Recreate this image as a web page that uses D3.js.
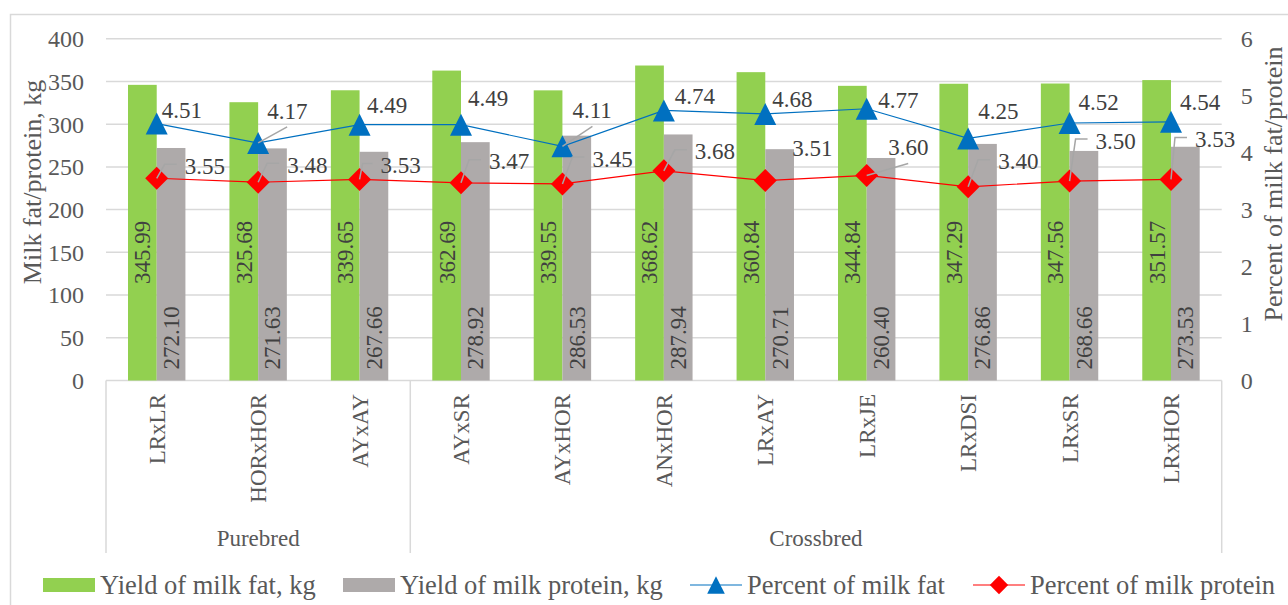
<!DOCTYPE html>
<html>
<head>
<meta charset="utf-8">
<script src="https://cdn.jsdelivr.net/npm/d3@7/dist/d3.min.js"></script>
<style>
  html, body { margin: 0; padding: 0; background: #ffffff; }
  svg { display: block; }
  text { font-family: "Liberation Serif", "Times New Roman", serif; }
</style>
</head>
<body>
<svg id="chart" width="1288" height="605"></svg>
<script>
// ---- data ----
const categories = ["LRxLR", "HORxHOR", "AYxAY", "AYxSR", "AYxHOR", "ANxHOR", "LRxAY", "LRxJE", "LRxDSI", "LRxSR", "LRxHOR"];
const groupNames = ["Purebred", "Crossbred"];
const groupSizes = [3, 8];
const fatYield = [345.99, 325.68, 339.65, 362.69, 339.55, 368.62, 360.84, 344.84, 347.29, 347.56, 351.57];
const proteinYield = [272.10, 271.63, 267.66, 278.92, 286.53, 287.94, 270.71, 260.40, 276.86, 268.66, 273.53];
const fatPercent = [4.51, 4.17, 4.49, 4.49, 4.11, 4.74, 4.68, 4.77, 4.25, 4.52, 4.54];
const proteinPercent = [3.55, 3.48, 3.53, 3.47, 3.45, 3.68, 3.51, 3.60, 3.40, 3.50, 3.53];
const leftTicks = [0, 50, 100, 150, 200, 250, 300, 350, 400];
const rightTicks = [0, 1, 2, 3, 4, 5, 6];
const seriesNames = ["Yield of milk fat, kg", "Yield of milk protein, kg", "Percent of milk fat", "Percent of milk protein"];

// ---- label placement for the percentage labels: [dx, dy, leader] relative to the point ----
const fatLabelPlacement = [
  [5, -13, "none"], [9, -32, "straight"], [7.5, -19, "none"], [7, -26, "none"],
  [10, -36, "straight"], [11, -14, "none"], [7, -14, "none"], [11.5, -8, "none"],
  [10, -27, "none"], [9, -21, "none"], [9, -19, "none"]
];
const proteinLabelPlacement = [
  [28, -12, "elbow"], [29, -17, "elbow"], [21, -14, "elbow"], [28, -21, "elbow"],
  [30, -25, "elbow"], [31, -19, "elbow"], [27, -32, "none"], [21.5, -28, "straight"],
  [30, -25, "elbow"], [26, -40, "elbow"], [24, -40, "elbow"]
];

// ---- styling ----
const COLORS = {
  fat: "#92D050", protein: "#AEAAAA", fatLine: "#0070C0", proteinLine: "#FF0000",
  grid: "#D9D9D9", axisText: "#595959", labelText: "#404040", leader: "#A6A6A6"
};
const FONT = 23;        // data labels, category labels
const TICK_FONT = 24;   // value axes
const TITLE_FONT = 26;  // axis titles
const LEGEND_FONT = 26.5;

const svg = d3.select("#chart");

// outer chart border
svg.append("rect")
  .attr("x", 10.5).attr("y", 14.5).attr("width", 1300).attr("height", 700)
  .attr("fill", "#ffffff").attr("stroke", "#D9D9D9").attr("stroke-width", 1.5);

const plot = { left: 106, right: 1221.7, top: 38.7, bottom: 380.5 };

const x = d3.scaleBand().domain(categories)
  .range([plot.left, plot.right]).paddingInner(0.434).paddingOuter(0.217);
const xSub = d3.scaleBand().domain(["fat", "protein"]).range([0, x.bandwidth()]);
const y = d3.scaleLinear().domain([0, 400]).range([plot.bottom, plot.top]);
const y2 = d3.scaleLinear().domain([0, 6]).range([plot.bottom, plot.top]);
const cx = c => x(c) + x.bandwidth() / 2;

// gridlines
svg.append("g").selectAll("line").data(leftTicks.filter(t => t > 0)).join("line")
  .attr("x1", plot.left).attr("x2", plot.right)
  .attr("y1", d => y(d)).attr("y2", d => y(d))
  .attr("stroke", COLORS.grid).attr("stroke-width", 1.5);

// left axis
const leftAxis = svg.append("g").attr("transform", `translate(${plot.left - 22},0)`)
  .call(d3.axisLeft(y).tickValues(leftTicks).tickFormat(d3.format("d")).tickSize(0).tickPadding(0));
leftAxis.select(".domain").remove();
leftAxis.selectAll("text").attr("font-size", TICK_FONT).attr("fill", COLORS.axisText)
  .attr("font-family", "Liberation Serif, Times New Roman, serif").attr("dy", "0.33em");

// right axis
const rightAxis = svg.append("g").attr("transform", `translate(${plot.right + 19},0)`)
  .call(d3.axisRight(y2).tickValues(rightTicks).tickFormat(d3.format("d")).tickSize(0).tickPadding(0));
rightAxis.select(".domain").remove();
rightAxis.selectAll("text").attr("font-size", TICK_FONT).attr("fill", COLORS.axisText)
  .attr("font-family", "Liberation Serif, Times New Roman, serif").attr("dy", "0.33em");

// axis titles
svg.append("text")
  .attr("transform", `translate(41,182) rotate(-90)`)
  .attr("text-anchor", "middle").attr("font-size", TITLE_FONT).attr("fill", COLORS.axisText)
  .text("Milk fat/protein, kg");
svg.append("text")
  .attr("transform", `translate(1282,184) rotate(-90)`)
  .attr("text-anchor", "middle").attr("font-size", TITLE_FONT).attr("fill", COLORS.axisText)
  .text("Percent of milk fat/protein");

// category axis: baseline and group separators
svg.append("line").attr("x1", plot.left).attr("x2", plot.right)
  .attr("y1", plot.bottom).attr("y2", plot.bottom)
  .attr("stroke", COLORS.grid).attr("stroke-width", 1.5);

const groupBounds = [];
let start = 0;
groupSizes.forEach((n, i) => {
  const x0 = x.step() * start + plot.left;
  const x1 = x.step() * (start + n) + plot.left;
  groupBounds.push({ name: groupNames[i], x0, x1 });
  start += n;
});
const sepXs = [plot.left, ...groupBounds.map(g => g.x1)];
svg.append("g").selectAll("line").data(sepXs).join("line")
  .attr("x1", d => d).attr("x2", d => d)
  .attr("y1", plot.bottom).attr("y2", 553)
  .attr("stroke", COLORS.grid).attr("stroke-width", 1.5);

svg.append("g").selectAll("text").data(categories).join("text")
  .attr("transform", d => `translate(${cx(d) + 8},394) rotate(-90)`)
  .attr("text-anchor", "end").attr("font-size", FONT).attr("fill", COLORS.axisText)
  .text(d => d);

svg.append("g").selectAll("text").data(groupBounds).join("text")
  .attr("x", d => (d.x0 + d.x1) / 2).attr("y", 546)
  .attr("text-anchor", "middle").attr("font-size", FONT).attr("fill", COLORS.axisText)
  .text(d => d.name);

// bars
const barG = svg.append("g");
barG.selectAll("rect.fat").data(categories).join("rect").attr("class", "fat")
  .attr("x", (d) => x(d) + xSub("fat")).attr("width", xSub.bandwidth())
  .attr("y", (d, i) => y(fatYield[i])).attr("height", (d, i) => y(0) - y(fatYield[i]))
  .attr("fill", COLORS.fat);
barG.selectAll("rect.protein").data(categories).join("rect").attr("class", "protein")
  .attr("x", (d) => x(d) + xSub("protein")).attr("width", xSub.bandwidth())
  .attr("y", (d, i) => y(proteinYield[i])).attr("height", (d, i) => y(0) - y(proteinYield[i]))
  .attr("fill", COLORS.protein);

// bar value labels (rotated)
svg.append("g").selectAll("text").data(categories).join("text")
  .attr("transform", d => `translate(${x(d) + xSub("fat") + xSub.bandwidth() / 2 + 8},${y(150)}) rotate(-90)`)
  .attr("text-anchor", "middle").attr("font-size", FONT).attr("fill", COLORS.labelText)
  .text((d, i) => fatYield[i].toFixed(2));
svg.append("g").selectAll("text").data(categories).join("text")
  .attr("transform", d => `translate(${x(d) + xSub("protein") + xSub.bandwidth() / 2 + 8},${y(50)}) rotate(-90)`)
  .attr("text-anchor", "middle").attr("font-size", FONT).attr("fill", COLORS.labelText)
  .text((d, i) => proteinYield[i].toFixed(2));

// percentage lines
const fatPts = categories.map((c, i) => [cx(c), y2(fatPercent[i])]);
const proteinPts = categories.map((c, i) => [cx(c), y2(proteinPercent[i])]);
const line = d3.line();
svg.append("path").attr("d", line(proteinPts)).attr("fill", "none")
  .attr("stroke", COLORS.proteinLine).attr("stroke-width", 1.2);
svg.append("path").attr("d", line(fatPts)).attr("fill", "none")
  .attr("stroke", COLORS.fatLine).attr("stroke-width", 1.2);

const triPath = "M0,-11L11,11L-11,11Z";
const diaPath = "M0,-11.5L11.5,0L0,11.5L-11.5,0Z";
svg.append("g").selectAll("path").data(proteinPts).join("path")
  .attr("d", diaPath).attr("transform", d => `translate(${d[0]},${d[1]})`)
  .attr("fill", COLORS.proteinLine);
svg.append("g").selectAll("path").data(fatPts).join("path")
  .attr("d", triPath).attr("transform", d => `translate(${d[0]},${d[1]})`)
  .attr("fill", COLORS.fatLine);

// percentage labels with leader lines
function drawLabels(pts, values, placement) {
  const g = svg.append("g");
  pts.forEach((p, i) => {
    const [dx, dy, leader] = placement[i];
    const lx = p[0] + dx, ly = p[1] + dy;
    if (leader === "elbow") {
      const kx = Math.max(lx - 20, p[0] + 3);
      g.append("path")
        .attr("d", `M${p[0]},${p[1]}L${kx},${ly - 2}L${lx - 8},${ly - 2}`)
        .attr("fill", "none").attr("stroke", COLORS.leader).attr("stroke-width", 1.5);
    } else if (leader === "straight") {
      g.append("path")
        .attr("d", `M${p[0]},${p[1]}L${lx + 20},${ly + 16}`)
        .attr("fill", "none").attr("stroke", COLORS.leader).attr("stroke-width", 1.5);
    }
    g.append("text").attr("x", lx).attr("y", ly).attr("dy", "0.33em")
      .attr("font-size", FONT).attr("fill", COLORS.labelText)
      .text(values[i].toFixed(2));
  });
}
drawLabels(fatPts, fatPercent, fatLabelPlacement);
drawLabels(proteinPts, proteinPercent, proteinLabelPlacement);

// legend
const legendY = 585;
const legendStarts = [43, 343, 690, 973];
const legend = svg.append("g");
seriesNames.forEach((name, i) => {
  const lx = legendStarts[i];
  if (i < 2) {
    legend.append("rect").attr("x", lx).attr("y", legendY - 7).attr("width", 52).attr("height", 14)
      .attr("fill", i === 0 ? COLORS.fat : COLORS.protein);
  } else {
    const col = i === 2 ? COLORS.fatLine : COLORS.proteinLine;
    legend.append("line").attr("x1", lx).attr("x2", lx + 52).attr("y1", legendY).attr("y2", legendY)
      .attr("stroke", col).attr("stroke-width", 1.2);
    legend.append("path").attr("d", i === 2 ? triPath : diaPath)
      .attr("transform", `translate(${lx + 26},${legendY}) scale(0.8)`).attr("fill", col);
  }
  legend.append("text").attr("x", lx + 57).attr("y", legendY).attr("dy", "0.33em")
    .attr("font-size", LEGEND_FONT).attr("fill", COLORS.axisText).text(name);
});
</script>
</body>
</html>
